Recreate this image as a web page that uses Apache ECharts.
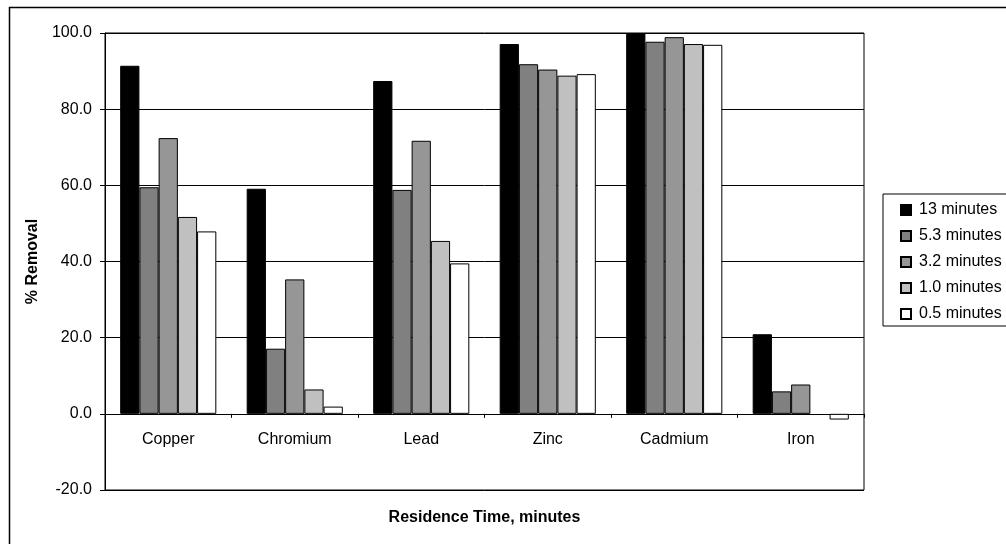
<!DOCTYPE html>
<html>
<head>
<meta charset="utf-8">
<script src="https://cdn.jsdelivr.net/npm/echarts@6/dist/echarts.min.js"></script>
<style>
  html, body { margin: 0; padding: 0; background: #fff; }
  #chart { width: 1006px; height: 544px; }
</style>
</head>
<body>
<div id="chart"></div>
<script>
// Metals and removal percentages for each residence time
const metals = ['Copper', 'Chromium', 'Lead', 'Zinc', 'Cadmium', 'Iron'];
const seriesNames = ['13 minutes', '5.3 minutes', '3.2 minutes', '1.0 minutes', '0.5 minutes'];
const removal13 = [91.4, 59.1, 87.4, 97.1, 100.0, 20.9];
const removal53 = [59.5, 17.1, 58.8, 91.8, 97.7, 5.9];
const removal32 = [72.4, 35.3, 71.7, 90.4, 98.9, 7.7];
const removal10 = [51.7, 6.4, 45.4, 88.8, 97.1, null];
const removal05 = [47.9, 1.9, 39.5, 89.2, 96.9, -1.5];
const yTicks = [-20, 0, 20, 40, 60, 80, 100];

const fills = ['#000000', '#808080', '#969696', '#C0C0C0', '#FFFFFF'];
const seriesData = [removal13, removal53, removal32, removal10, removal05];

const FONT = '"Liberation Sans", Arial, sans-serif';
const FS = 16;

// plot area geometry
const GRID_TOP = 33, GRID_BOTTOM = 54, CHART_H = 544;
const plotH = CHART_H - GRID_TOP - GRID_BOTTOM;
const yMin = yTicks[0], yMax = yTicks[yTicks.length - 1];
// lift the category axis from the plot bottom up to the zero line
const zeroOffset = -plotH * (0 - yMin) / (yMax - yMin);

const chart = echarts.init(document.getElementById('chart'), null, { renderer: 'canvas' });

chart.setOption({
  animation: false,
  backgroundColor: '#ffffff',
  textStyle: { fontFamily: FONT },
  graphic: [{
    type: 'rect',
    left: 7, top: 5,
    shape: { width: 1020, height: 560 },
    style: { fill: 'none', stroke: '#000', lineWidth: 1.5 },
    silent: true,
    z: -1
  }],
  grid: {
    left: 105, top: GRID_TOP, right: 142, bottom: GRID_BOTTOM,
    outerBoundsMode: 'none',
    containLabel: false,
    show: true, borderColor: '#000', borderWidth: 1,
    backgroundColor: 'transparent'
  },
  legend: {
    orient: 'vertical',
    left: 883, top: 194,
    padding: [8, 30, 4, 17],
    itemWidth: 10, itemHeight: 10, itemGap: 10,
    borderColor: '#000', borderWidth: 1,
    icon: 'rect',
    textStyle: { fontFamily: FONT, fontSize: FS, lineHeight: 16, color: '#000', padding: [0, 0, 0, 3] },
    data: seriesNames
  },
  xAxis: {
    type: 'category',
    data: metals,
    position: 'bottom',
    offset: zeroOffset,
    axisLine: { onZero: false, lineStyle: { color: '#000', width: 1 } },
    axisTick: { show: true, alignWithLabel: false, length: 4, lineStyle: { color: '#000' } },
    axisLabel: { fontFamily: FONT, fontSize: FS, color: '#000', margin: 18 },
    name: 'Residence Time, minutes',
    nameLocation: 'middle',
    nameGap: 96,
    nameTextStyle: { fontFamily: FONT, fontSize: FS, fontWeight: 'bold', color: '#000' }
  },
  yAxis: {
    type: 'value',
    min: yMin, max: yMax, interval: yTicks[1] - yTicks[0],
    axisLine: { show: true, lineStyle: { color: '#000', width: 1 } },
    axisTick: { show: true, length: 5, lineStyle: { color: '#000' } },
    splitLine: { show: true, lineStyle: { color: '#000', width: 1 } },
    axisLabel: {
      fontFamily: FONT, fontSize: FS, color: '#000', margin: 13,
      formatter: v => v.toFixed(1)
    },
    name: '% Removal',
    nameLocation: 'middle',
    nameGap: 56,
    nameTextStyle: { fontFamily: FONT, fontSize: FS, fontWeight: 'bold', color: '#000' }
  },
  series: seriesNames.map((name, i) => ({
    name: name,
    type: 'bar',
    data: seriesData[i],
    barGap: '0%',
    barCategoryGap: '24%',
    itemStyle: { color: fills[i], borderColor: '#000', borderWidth: 1 }
  }))
});
</script>
</body>
</html>
